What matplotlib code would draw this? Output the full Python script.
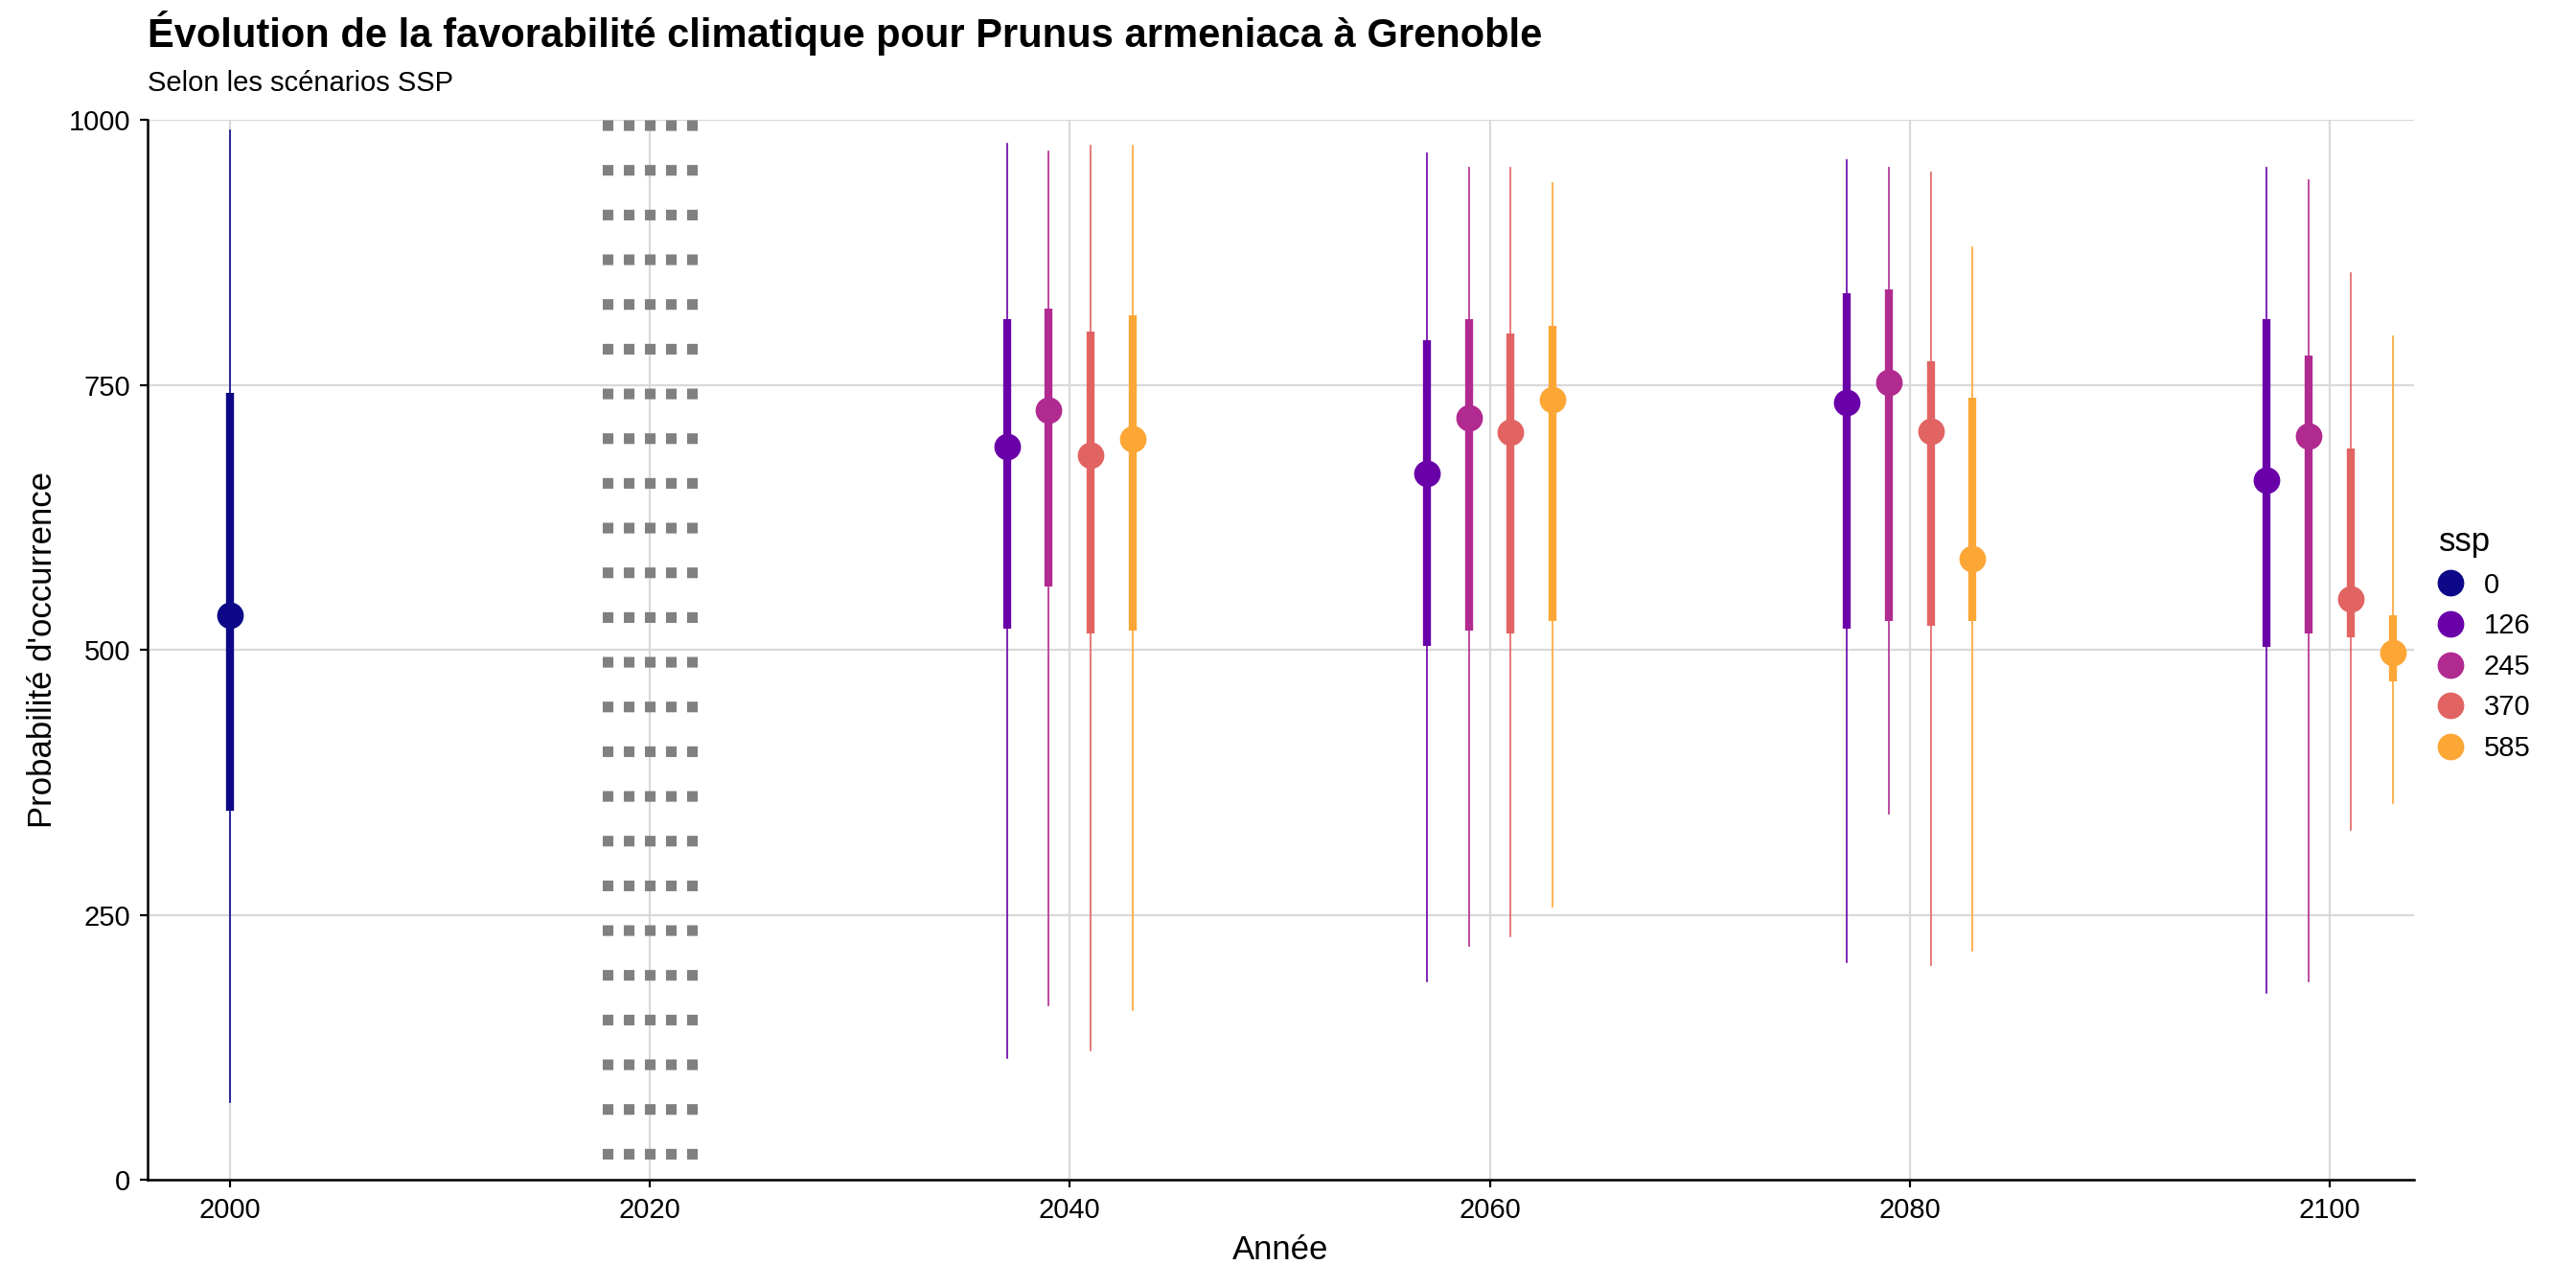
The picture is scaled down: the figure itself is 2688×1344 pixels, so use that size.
import matplotlib
matplotlib.use("Agg")
import matplotlib.pyplot as plt
from matplotlib.lines import Line2D

plt.rcParams["font.family"] = "Liberation Sans"

ssps = ["0", "126", "245", "370", "585"]
colors = ["#0D0887", "#6A00A8", "#B12A90", "#E16462", "#FCA636"]
offsets = [0, -3, -1, 1, 3]
years_hist = [2000]
years_fut = [2040, 2060, 2080, 2100]
# per ssp: lists of (median, q25, q75, min, max) per year
hist = {"0": [(533, 348, 742, 73, 990)]}
fut = {
    "126": [(692, 520, 812, 115, 977), (666, 504, 792, 187, 968), (733, 520, 836, 205, 962), (660, 503, 812, 176, 955)],
    "245": [(726, 560, 822, 165, 970), (719, 518, 812, 221, 955), (752, 527, 840, 345, 955), (702, 515, 778, 187, 943)],
    "370": [(684, 515, 800, 122, 976), (705, 515, 798, 230, 955), (706, 523, 772, 203, 950), (548, 512, 690, 330, 855)],
    "585": [(699, 518, 816, 160, 976), (736, 527, 806, 258, 940), (586, 527, 738, 216, 880), (497, 470, 533, 355, 796)],
}
dotted_years = [2018, 2019, 2020, 2021, 2022]

fig = plt.figure(figsize=(13.44, 6.72), dpi=200)
ax = fig.add_axes([0.0574, 0.084, 0.8796, 0.823])
ax.set_xlim(1996.1, 2104)
ax.set_ylim(0, 1000)
for v in [0, 250, 500, 750, 1000]:
    ax.axhline(v, color="#D9D9D9", lw=0.8, zorder=0)
for v in [2000, 2020, 2040, 2060, 2080, 2100]:
    ax.axvline(v, color="#D9D9D9", lw=0.8, zorder=0)
for y in dotted_years:
    ax.plot([y, y], [1000, 0], color="#808080", lw=4, linestyle=(0, (1, 3.2)),
            solid_capstyle="butt", dash_capstyle="butt", zorder=1, clip_on=False)

def draw(x, vals, c):
    med, q1, q3, lo, hi = vals
    ax.plot([x, x], [lo, hi], color=c, lw=0.6, zorder=2)
    ax.plot([x, x], [q1, q3], color=c, lw=3, zorder=3, solid_capstyle="butt")
    ax.plot([x], [med], "o", color=c, ms=9, zorder=4)

for s, c, o in zip(ssps, colors, offsets):
    if s in hist:
        for yr, v in zip(years_hist, hist[s]):
            draw(yr + o, v, c)
    if s in fut:
        for yr, v in zip(years_fut, fut[s]):
            draw(yr + o, v, c)

for sp in ["top", "right"]:
    ax.spines[sp].set_visible(False)
ax.spines["left"].set_linewidth(0.9)
ax.spines["bottom"].set_linewidth(0.9)
ax.set_xticks([2000, 2020, 2040, 2060, 2080, 2100])
ax.set_yticks([0, 250, 500, 750, 1000])
ax.tick_params(labelsize=10.5, length=3, width=0.8, colors="black")
ax.set_xlabel("Année", fontsize=12.5)
ax.set_ylabel("Probabilité d'occurrence", fontsize=12.5)
fig.text(0.0574, 0.957, "Évolution de la favorabilité climatique pour Prunus armeniaca à Grenoble",
         fontsize=15, fontweight="bold", va="bottom")
fig.text(0.0574, 0.925, "Selon les scénarios SSP", fontsize=10.5, va="bottom")

handles = [Line2D([0], [0], marker="o", color=c, lw=0, ms=9) for c in colors]
leg = fig.legend(handles, ssps, title="ssp", loc="center left", bbox_to_anchor=(0.937, 0.5),
                 frameon=False, fontsize=10.5, title_fontsize=12.5, handlelength=0.8, alignment="left")
fig.savefig("out.png", dpi=200)
